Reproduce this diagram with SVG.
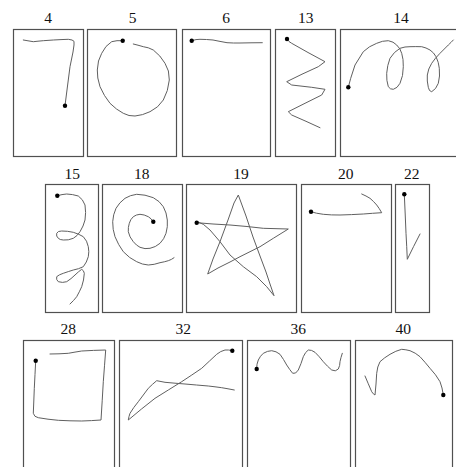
<svg xmlns="http://www.w3.org/2000/svg" width="456" height="467" viewBox="0 0 456 467">
<style>
.box{fill:#fff;stroke:#505050;stroke-width:1.2}
.lbl{font-family:"Liberation Serif","Times New Roman",serif;font-size:15.5px;fill:#111;text-anchor:middle}
.stk{fill:none;stroke:#606060;stroke-width:1;stroke-linejoin:round;stroke-linecap:round}
.dot{fill:#000}
</style>
<rect width="456" height="467" fill="#fff"/>
<g id="p4">
<rect class="box" x="13.5" y="29.5" width="70" height="127"/>
<text class="lbl" x="48" y="23">4</text>
<polyline class="stk" points="23.3,40 28,40.8 33.3,41.7 38,41.2 43.3,40.7 53.3,40 61,39.6 68.3,39.3 72,40 74,41.3 74,45 73,52 70,66.7 67.5,86 65,105.7"/>
<circle class="dot" cx="65" cy="105.7" r="2.2"/>
</g>
<g id="p5">
<rect class="box" x="87.5" y="29.5" width="89" height="127"/>
<text class="lbl" x="132.5" y="23">5</text>
<polyline class="stk" points="122.7,40.7 117,40.7 111.7,41.7 106,46.5 101.7,53.3 98.5,61 97.3,70 97.8,78 100,86.7 104.5,95.5 110,103.3 116.5,109 123.3,113.3 129,115.5 135,116 142.5,114.6 150,111.7 157.5,106.8 163.3,100 167.3,90.5 169.3,80 168.4,71 165,63.3 159.8,56 153.3,50 148.3,47.8 143.3,46.7 138,45.2 133.3,44"/>
<circle class="dot" cx="122.7" cy="40.7" r="2.2"/>
</g>
<g id="p6">
<rect class="box" x="182.5" y="29.5" width="88" height="127"/>
<text class="lbl" x="226" y="23">6</text>
<polyline class="stk" points="191.7,40.7 196,39.6 200,39.3 206.5,39.5 213,40 220,41.4 227,42.7 233.5,43 240,43 251,42.8 262.3,42.7"/>
<circle class="dot" cx="191.7" cy="40.7" r="2.2"/>
</g>
<g id="p13">
<rect class="box" x="275.5" y="29.5" width="60" height="127"/>
<text class="lbl" x="305.7" y="23">13</text>
<polyline class="stk" points="287,39 289,41.5 291.7,43.3 308,52.5 325,61.7 318.3,66.7 302,74.2 286.7,81.7 291.7,85 311.7,87.3 325,89.3 321.7,95 305,103.3 288.3,111.7 291.7,115 306,121.3 320,127.7"/>
<circle class="dot" cx="287" cy="39" r="2.2"/>
</g>
<g id="p14">
<rect class="box" x="340.5" y="29.5" width="125" height="127"/>
<text class="lbl" x="401" y="23">14</text>
<polyline class="stk" points="348.3,87.3 350.7,78.3 355,65 363.3,51.7 369.5,46.8 376.7,43.3 382.5,41.3 388.3,40.7 393,42.2 396.7,45 399.8,48.8 401.7,53.3 403,59.5 403.3,66.7 402.5,75.5 400,83.3 397,87.3 393.3,89.3 390.5,88.8 388.3,86.7 386.9,80.3 386.7,73.3 387.8,65.5 390,58.3 394.5,52.5 400,48.3 405,47 410,46.7 415.8,46.6 421.7,46.7 426,48 430,50 433.5,53 436,56.7 438.2,62.3 439.3,68.3 439.5,76 438.3,83.3 435.5,88.5 431.7,91.7 429.5,90.5 428.3,87.3 427.3,81 427.3,75 428.8,69 431.7,63.3 435.5,58.2 440,53.3 444.3,49 448.3,45 451,42.4 453.3,40"/>
<circle class="dot" cx="348.3" cy="87.3" r="2.2"/>
</g>
<g id="p15">
<rect class="box" x="45.5" y="184.5" width="53" height="128"/>
<text class="lbl" x="72.3" y="179">15</text>
<polyline class="stk" points="57.3,195.7 62,194.6 66.7,194 72.5,194.6 78.3,196 82.3,199.8 85,205 85.6,212.5 85,220 83,226 80,231.7 77,235.5 73.3,238.3 68.3,239.8 63.3,240 60.3,239.5 58.3,238.3 56.7,236 56.7,233.3 58.5,231.5 61.7,231 67.5,231.3 73.3,232.3 78.5,234.2 83.3,236.7 86.5,241.2 88.3,246.7 88.8,251.7 88.3,256.7 86.3,262 83.3,266.7 78.5,268.7 73.3,270 68.3,271.6 63.3,273.3 59.5,274.8 56.7,276.7 56.7,279.5 58.3,281.7 62.5,282.4 66.7,281.7 71,278.6 75,275 78.5,271.8 81.7,269.3 83.4,270.8 84.3,273.3 83.5,280 81.7,286.7 79.3,291.8 76.7,296.7 73.5,300.5 70,304"/>
<circle class="dot" cx="57.3" cy="195.7" r="2.2"/>
</g>
<g id="p18">
<rect class="box" x="102.5" y="184.5" width="80" height="128"/>
<text class="lbl" x="141.7" y="179">18</text>
<polyline class="stk" points="153.3,221.7 151,218.8 148.3,216.7 144.2,215 140,214.3 136.5,215 133.3,216.7 130.8,219.7 129.3,223.3 128.4,227.4 128.3,231.7 130.1,236.9 133.3,241.7 136.5,245 140,247.3 145,248.6 150,248.3 155.3,246.5 160,243.3 163.6,238.7 166,233.3 167.3,226.7 167.3,220 166,213 163.3,206.7 159,201.6 153.3,197.7 145,195.2 136.7,194.3 130.5,195.7 125,198.3 119.9,202.9 116,208.3 113.7,214.8 112.7,221.7 113.2,229.3 115,236.7 118.7,244.5 123.3,251.7 129.7,257.5 136.7,261.7 142.4,264 148.3,265 154.2,264.3 160,262.7 164.3,261.8 168.3,260.7 171.4,259.4 174,257.7"/>
<circle class="dot" cx="153.3" cy="221.7" r="2.2"/>
</g>
<g id="p19">
<rect class="box" x="186.5" y="184.5" width="110" height="128"/>
<text class="lbl" x="241" y="179">19</text>
<polyline class="stk" points="196.7,222.7 213,224 230,225 247,226.5 263.3,228.3 288.3,229 273.3,238.3 260,246.7 240,256.7 230,262 218,268 207.7,274 213,259 220,241.7 228,220 234,203 238.3,195 246,216 253,237 260,256 266,272 270,284 274,295.7 266.7,286.7 256.7,276.7 243.3,266.7 230,255 220,241.7 210,230 203.3,224.3 199,222.5"/>
<circle class="dot" cx="196.7" cy="222.7" r="2.2"/>
</g>
<g id="p20">
<rect class="box" x="301.5" y="184.5" width="90" height="128"/>
<text class="lbl" x="345.7" y="179">20</text>
<polyline class="stk" points="311,211.7 316.5,213.2 323.3,214.3 331.5,214.9 340,215 351.5,214.6 363.3,214 372.5,213.3 381.7,212.7 379.3,208.7 376.7,205 373.5,201.5 370,198.3 366,196 361.7,194"/>
<circle class="dot" cx="311" cy="211.7" r="2.2"/>
</g>
<g id="p22">
<rect class="box" x="395.5" y="184.5" width="34" height="128"/>
<text class="lbl" x="411.7" y="179">22</text>
<polyline class="stk" points="404.3,194.3 405.2,214 406,233.3 406.7,246.3 407.3,259.3 413.5,246.7 420,234"/>
<circle class="dot" cx="404.3" cy="194.3" r="2.2"/>
</g>
<g id="p28">
<rect class="box" x="23.5" y="340.5" width="91" height="140"/>
<text class="lbl" x="68.3" y="334">28</text>
<polyline class="stk" points="35.7,360.7 35,374.5 34.3,388.3 33.8,401 33.3,413.3 35,416.3 38.3,417.7 48,419.2 58.3,420.3 70,420.8 81.7,421 91.5,420.6 101,420 102.2,400.8 103.3,381.7 104.5,365.8 105.7,350 93.5,350.4 81.7,351 75,352.1 68.3,353.3 59,353.8 50,354"/>
<circle class="dot" cx="35.7" cy="360.7" r="2.2"/>
</g>
<g id="p32">
<rect class="box" x="119.5" y="340.5" width="123" height="140"/>
<text class="lbl" x="183.3" y="334">32</text>
<polyline class="stk" points="232.3,350.7 228.5,350 225,350 220.7,351.6 216.7,354.3 209.5,361 201.7,368.3 191.8,375 181.7,381.7 168.3,390 155,398.3 141.5,409 128.3,420 129,416.5 130,413.3 133.8,407.5 138.3,401.7 143.3,395 148.3,388.3 152.5,384.3 156.7,380.7 165,382.3 175,383.2 185,384 196.5,385 208.3,386 215,386.8 221.7,387.7 228,388.8 234.3,390"/>
<circle class="dot" cx="232.3" cy="350.7" r="2.2"/>
</g>
<g id="p36">
<rect class="box" x="247.5" y="340.5" width="103" height="140"/>
<text class="lbl" x="298.3" y="334">36</text>
<polyline class="stk" points="256.7,369 257,364.3 258.3,360 260.5,356.3 263.3,353.3 267.5,351.4 271.7,350.7 276,351.8 280,354.3 283.5,359.5 286.7,365 289.8,369.6 292.7,373.3 295.6,373 298.3,370 301,363.5 303.3,356.7 305.6,352.6 308.3,350 311.5,350.4 315,352.3 319.3,356.8 323.3,361.7 327.5,366.2 331.7,370 335.3,370.8 338.3,369 339.6,365.5 340,361.7 341,357.5 342.3,353.3"/>
<circle class="dot" cx="256.7" cy="369" r="2.2"/>
</g>
<g id="p40">
<rect class="box" x="355.5" y="340.5" width="97" height="140"/>
<text class="lbl" x="403.3" y="334">40</text>
<polyline class="stk" points="443.3,395 442,388 440,381.7 435.5,374.8 430,368.3 425,362.3 420,356.7 415.2,353.2 410,350.7 405.9,349.8 401.7,349.3 395.8,351.3 390,354.3 384.7,357.8 380,361.7 377.8,367 376.7,373.3 376,384 375,395 373.3,393.8 371.7,391.7 368.3,383.8 365,376"/>
<circle class="dot" cx="443.3" cy="395" r="2.2"/>
</g>
</svg>
